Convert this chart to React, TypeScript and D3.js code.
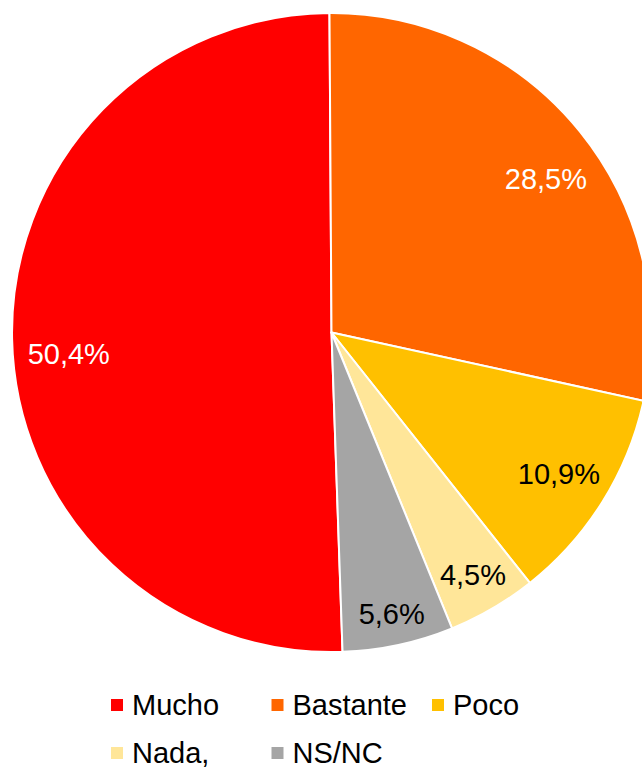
import React from "react";
import * as d3 from "d3";

const categories = ["Mucho", "Bastante", "Poco", "Nada,", "NS/NC"];
const values = [50.4, 28.5, 10.9, 4.5, 5.6];
const colors = ["#FF0000", "#FF6600", "#FFC000", "#FFE699", "#A5A5A5"];
const labelColors = ["#FFFFFF", "#FFFFFF", "#000000", "#000000", "#000000"];

const W = 642;
const H = 767;
const cx = 331.5;
const cy = 332.5;
const R = 319.5;
const ROT = -0.0063;
const FONT = "'Liberation Sans', Arial, sans-serif";
const FS = 29;

const charW: Record<string, number> = { ",": 0.278, "%": 0.889 };
function textWidth(s: string) {
  let w = 0;
  for (const c of s) w += charW[c] ?? 0.556;
  return w * FS;
}
const fmt = (v: number) => v.toFixed(1).replace(".", ",") + "%";

export default function App() {
  const total = d3.sum(values);
  const start = (-2 * Math.PI * values[0]) / total + ROT;
  const pie = d3
    .pie<number>()
    .sort(null)
    .value((d) => d)
    .startAngle(start)
    .endAngle(start + 2 * Math.PI);
  const arcs = pie(values);
  const arc = d3.arc<d3.PieArcDatum<number>>().innerRadius(0).outerRadius(R);

  const labels = arcs.map((a, i) => {
    const span = a.endAngle - a.startAngle;
    let mid = (a.startAngle + a.endAngle) / 2;
    const large = span > 1.5;
    // large slices: label nudged downward along the sweep
    if (large) mid += 0.06 * Math.sign(Math.sin(mid));
    const labelEdge = large ? 306 : 311;
    const sx = Math.sin(mid);
    const sy = -Math.cos(mid);
    const txt = fmt(values[i]);
    const hw = textWidth(txt) / 2;
    const hh = 15;
    const ox = Math.sign(sx) * hw;
    const oy = Math.sign(sy) * hh;
    const b = 2 * (sx * ox + sy * oy);
    const c = ox * ox + oy * oy - labelEdge * labelEdge;
    const t = (-b + Math.sqrt(b * b - 4 * c)) / 2;
    return { x: cx + t * sx, y: cy + t * sy, txt, color: labelColors[i] };
  });

  const legendCols = d3.scalePoint<number>().domain([0, 1, 2]).range([111, 432]);
  const legendRows = d3.scalePoint<number>().domain([0, 1]).range([715, 763]);

  return (
    <svg
      width={W}
      height={H}
      style={{ position: "absolute", left: 0, top: 0, background: "#fff" }}
    >
      <g transform={`translate(${cx},${cy})`}>
        {arcs.map((a, i) => (
          <path key={i} d={arc(a) || ""} fill={colors[i]} stroke="#fff" strokeWidth={2} strokeLinejoin="round" />
        ))}
      </g>
      {labels.map((l, i) => (
        <text
          key={i}
          x={l.x}
          y={l.y + 10}
          textAnchor="middle"
          fontFamily={FONT}
          fontSize={FS}
          fill={l.color}
        >
          {l.txt}
        </text>
      ))}
      {categories.map((c, i) => {
        const col = i % 3;
        const row = Math.floor(i / 3);
        const x = legendCols(col)!;
        const y = legendRows(row)!;
        return (
          <g key={c}>
            <rect x={x} y={y - 16} width={12} height={12} fill={colors[i]} />
            <text x={x + 21} y={y} fontFamily={FONT} fontSize={FS} fill="#000">
              {c}
            </text>
          </g>
        );
      })}
    </svg>
  );
}
